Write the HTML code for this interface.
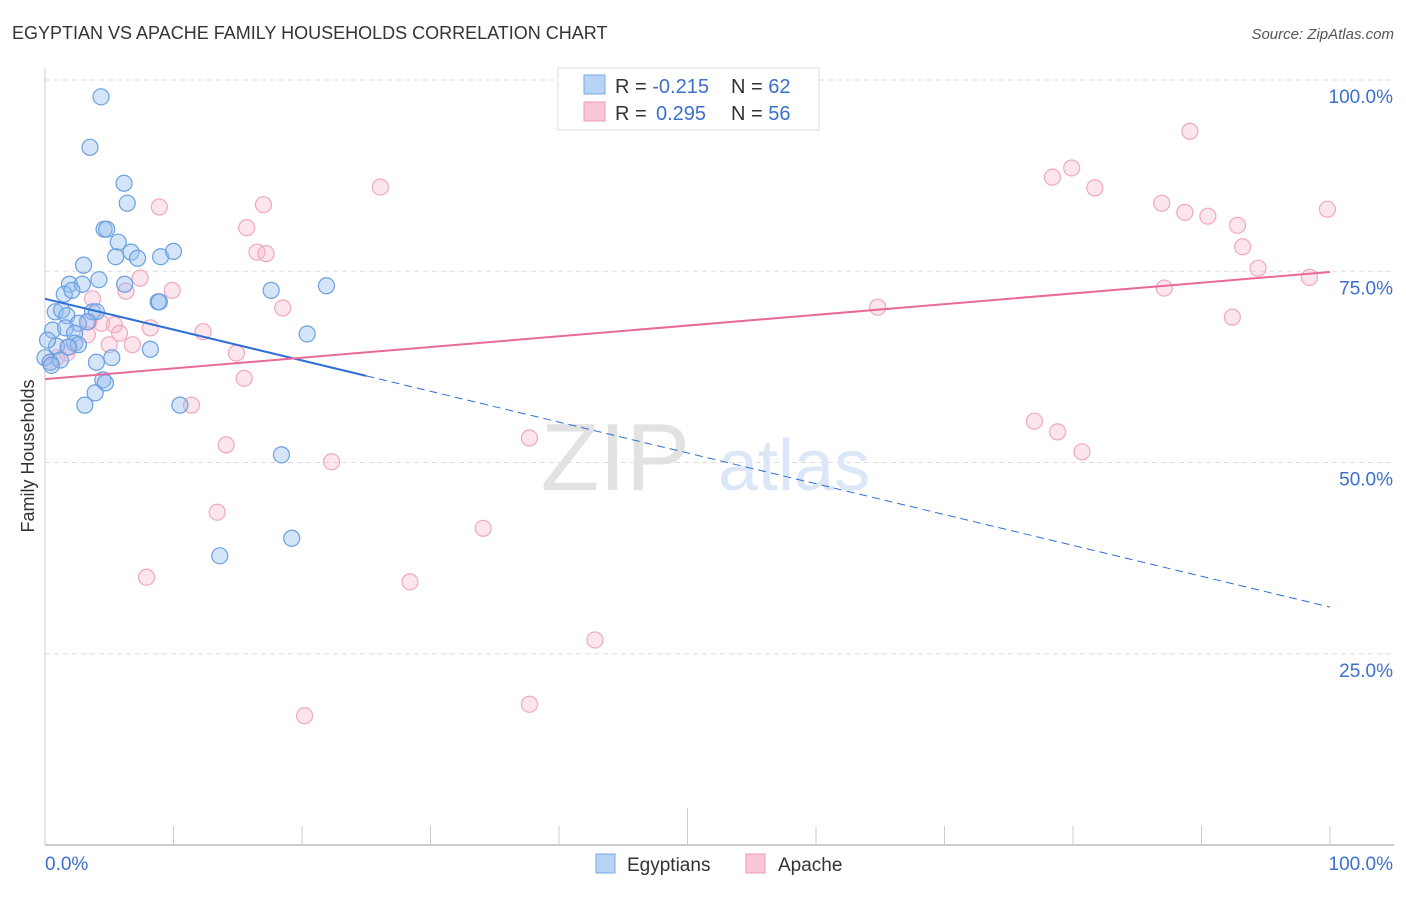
<!DOCTYPE html>
<html><head><meta charset="utf-8"><style>
body{margin:0;background:#fff;font-family:"Liberation Sans",sans-serif;}
svg text{font-family:"Liberation Sans",sans-serif;}
</style></head><body>
<svg id="chart" width="1406" height="892">
<text x="12" y="39" font-size="18" fill="#333">EGYPTIAN VS APACHE FAMILY HOUSEHOLDS CORRELATION CHART</text>
<text x="1394" y="39" font-size="15" fill="#555" font-style="italic" text-anchor="end">Source: ZipAtlas.com</text>
<g id="grid"></g>
<text x="690" y="490" font-size="96" fill="#e2e2e2" font-family="Liberation Serif" text-anchor="end">ZIP</text>
<text x="718" y="490" font-size="72" fill="#dbe7f6">atlas</text>
<text transform="translate(34,456) rotate(-90)" font-size="18" fill="#333" text-anchor="middle">Family Households</text>
<g id="marks"></g>
<g>
<rect x="558" y="68" width="261" height="62" fill="#fff" stroke="#ddd"/>
<rect x="584" y="75" width="21" height="19" fill="#b7d3f5" stroke="#7aa9e6"/>
<rect x="584" y="102" width="21" height="19" fill="#fbc7d6" stroke="#ee9ab3"/>
<text x="615" y="93" font-size="20" fill="#333">R = <tspan fill="#3b70cc">-0.215</tspan><tspan x="731">N = </tspan><tspan fill="#3b70cc">62</tspan></text>
<text x="615" y="120" font-size="20" fill="#333">R = <tspan x="656" fill="#3b70cc">0.295</tspan><tspan x="731">N = </tspan><tspan fill="#3b70cc">56</tspan></text>
</g>
<g>
<rect x="596" y="854" width="19" height="19" fill="#b7d3f5" stroke="#7aa9e6"/>
<text x="627" y="871" font-size="19" fill="#333">Egyptians</text>
<text x="778" y="871" font-size="19" fill="#333">Apache</text>
<rect x="746" y="854" width="19" height="19" fill="#fbc7d6" stroke="#ee9ab3"/>
</g>
</svg>
<script>
const yTicks=[25,50,75,100];
const yTickLabels=["25.0%","50.0%","75.0%","100.0%"];
const xTicks=[0,10,20,30,40,50,60,70,80,90,100];
const blueX=[4.36,3.5,6.15,6.4,4.6,4.8,5.7,3.0,5.5,6.7,7.2,9.0,10.0,1.9,2.9,4.2,6.2,1.5,2.1,0.8,1.3,1.7,3.7,4.0,3.3,2.6,0.6,1.6,2.3,0.9,2.3,2.6,1.8,0,0.4,1.2,4.0,5.2,8.2,8.8,8.9,17.6,21.9,20.4,4.5,4.7,3.9,3.1,10.5,18.4,19.2,13.6,0.2,0.5];
const blueY=[97.8,91.2,86.5,83.9,80.5,80.5,78.8,75.8,76.9,77.5,76.7,76.9,77.6,73.3,73.3,73.9,73.3,72.0,72.5,69.7,69.9,69.2,69.7,69.7,68.4,68.2,67.3,67.6,66.9,65.2,65.6,65.4,65.1,63.7,63.1,63.4,63.1,63.7,64.8,71.0,71.0,72.5,73.1,66.8,60.8,60.4,59.1,57.5,57.5,51.0,40.1,37.8,66.0,62.7];
const pinkX=[89.1,79.9,78.4,81.7,26.1,86.9,88.7,90.5,92.8,93.2,99.8,8.9,17.0,15.7,16.5,17.2,94.4,98.4,87.1,92.4,64.8,7.4,6.3,9.9,3.7,18.5,5.4,4.4,3.4,8.2,5.8,12.3,3.3,6.8,5.0,1.9,1.7,0.9,14.9,15.5,0.4,11.4,14.1,77.0,78.8,80.7,37.7,22.3,13.4,34.1,7.9,28.4,42.8,20.2,37.7];
const pinkY=[93.3,88.5,87.3,85.9,86.0,83.9,82.7,82.2,81.0,78.2,83.1,83.4,83.7,80.7,77.5,77.3,75.4,74.2,72.8,69.0,70.3,74.1,72.4,72.5,71.4,70.2,68.0,68.2,68.4,67.6,66.9,67.1,66.7,65.4,65.4,65.1,64.3,63.7,64.3,61.0,63.1,57.5,52.3,55.4,54.0,51.4,53.2,50.1,43.5,41.4,35.0,34.4,26.8,16.9,18.4];
const blueTrend=[71.4,31.1];
const pinkTrend=[60.9,74.9];
const blueSolidEnd=25;
const NS="http://www.w3.org/2000/svg";
const X=v=>45+v*12.85, Y=v=>845-v*7.65;
function mk(t,a,p){const e=document.createElementNS(NS,t);for(const k in a)e.setAttribute(k,a[k]);p.appendChild(e);return e;}
const grid=document.getElementById('grid'), marks=document.getElementById('marks');
yTicks.forEach((t,i)=>{
 const l=mk('line',{x1:45,x2:1394,y1:Y(t),y2:Y(t),stroke:'#ddd','stroke-dasharray':'5,4'},grid);
 
 
 const tx=mk('text',{x:1393,y:Y(t)+23,'font-size':19,fill:'#3b70cc','text-anchor':'end'},grid);
 tx.textContent=yTickLabels[i];
 
 
});
const ax=mk('line',{x1:45,x2:1394,y1:845,y2:845,stroke:'#bbb','stroke-width':1.5},grid);


const ay=mk('line',{x1:45,x2:45,y1:68,y2:845,stroke:'#ccc'},grid);


xTicks.forEach(t=>{
 const tk=mk('line',{x1:X(t),x2:X(t),y1:t===50?808:826,y2:845,stroke:'#ccc'},grid);
 
 
});
const xl0=mk('text',{x:45,y:870,'font-size':19,fill:'#3b70cc'},grid);xl0.textContent='0.0%';


const xl1=mk('text',{x:1393,y:870,'font-size':19,fill:'#3b70cc','text-anchor':'end'},grid);xl1.textContent='100.0%';


pinkX.forEach((x,i)=>{
 const c=mk('circle',{cx:X(x),cy:Y(pinkY[i]),r:8,fill:'rgba(248,180,202,0.35)',stroke:'#f0a8bf','stroke-width':1.2},marks);
 
 
});
blueX.forEach((x,i)=>{
 const c=mk('circle',{cx:X(x),cy:Y(blueY[i]),r:8,fill:'rgba(150,190,240,0.4)',stroke:'#6a9fe0','stroke-width':1.2},marks);
 
 
});
const by=x=>blueTrend[0]+(blueTrend[1]-blueTrend[0])*x/100;
const b1=mk('line',{x1:X(0),y1:Y(by(0)),x2:X(blueSolidEnd),y2:Y(by(blueSolidEnd)),stroke:'#2f6fd6','stroke-width':2},marks);


const b2=mk('line',{x1:X(blueSolidEnd),y1:Y(by(blueSolidEnd)),x2:X(100),y2:Y(by(100)),stroke:'#2f6fd6','stroke-width':1,'stroke-dasharray':'8,5'},marks);


const p1=mk('line',{x1:X(0),y1:Y(pinkTrend[0]),x2:X(100),y2:Y(pinkTrend[1]),stroke:'#e8699a','stroke-width':2},marks);


</script>
</body></html>
